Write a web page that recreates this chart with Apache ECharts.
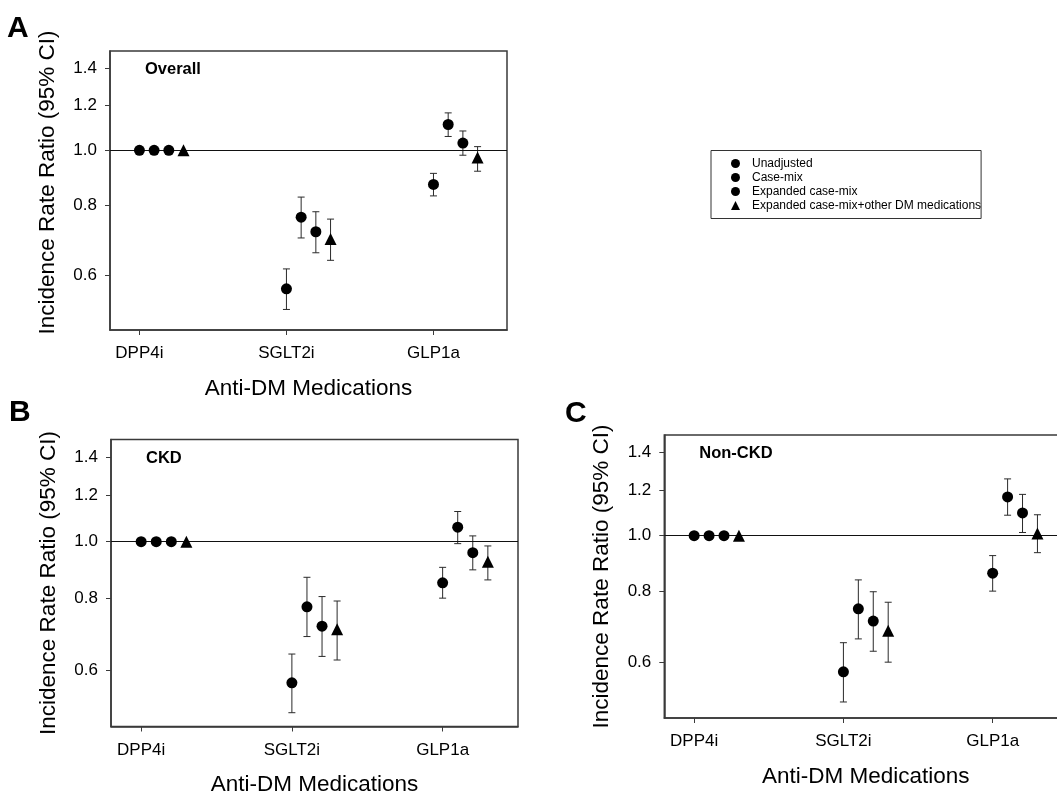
<!DOCTYPE html>
<html><head><meta charset="utf-8">
<script src="https://cdn.jsdelivr.net/npm/echarts@6/dist/echarts.min.js"></script>
<style>html,body{margin:0;padding:0;background:#fff}#c{width:1057px;height:791px}</style>
</head><body><div id="c"></div>
<script>
// ---- data ----
const categories = ['DPP4i', 'SGLT2i', 'GLP1a'];
const seriesNames = ['Unadjusted', 'Case-mix', 'Expanded case-mix', 'Expanded case-mix+other DM medications'];
const yTickValues = [0.6, 0.8, 1.0, 1.2, 1.4];
const panelTitles = ['Overall', 'CKD', 'Non-CKD'];
const panelLetters = ['A', 'B', 'C'];

// Panel A: Overall  (rows = series, columns = categories)
const overallEst  = [[1.0, 0.568, 0.870], [1.0, 0.761, 1.111], [1.0, 0.717, 1.030], [1.0, 0.696, 0.971]];
const overallLow  = [[null, 0.522, 0.830], [null, 0.699, 1.058], [null, 0.658, 0.980], [null, 0.638, 0.918]];
const overallHigh = [[null, 0.616, 0.910], [null, 0.826, 1.165], [null, 0.778, 1.082], [null, 0.755, 1.015]];

// Panel B: CKD
const ckdEst  = [[1.0, 0.571, 0.849], [1.0, 0.772, 1.059], [1.0, 0.715, 0.957], [1.0, 0.706, 0.923]];
const ckdLow  = [[null, 0.507, 0.799], [null, 0.686, 0.992], [null, 0.634, 0.894], [null, 0.625, 0.859]];
const ckdHigh = [[null, 0.640, 0.903], [null, 0.868, 1.127], [null, 0.804, 1.023], [null, 0.790, 0.983]];

// Panel C: Non-CKD
const nonCkdEst  = [[1.0, 0.578, 0.860], [1.0, 0.745, 1.169], [1.0, 0.709, 1.096], [1.0, 0.682, 1.009]];
const nonCkdLow  = [[null, 0.512, 0.800], [null, 0.660, 1.086], [null, 0.628, 1.013], [null, 0.601, 0.934]];
const nonCkdHigh = [[null, 0.650, 0.923], [null, 0.837, 1.257], [null, 0.798, 1.181], [null, 0.765, 1.088]];

const panels = [
  { est: overallEst, low: overallLow, high: overallHigh },
  { est: ckdEst, low: ckdLow, high: ckdHigh },
  { est: nonCkdEst, low: nonCkdLow, high: nonCkdHigh }
];

// ---- layout / style ----
const FONT = '"Liberation Sans", Arial, sans-serif';
const AX = '#3a3a3a';
const SERIES_OFFSET = 0.1;
const grids = [
  { left: 110, top: 51, width: 397, height: 279 },
  { left: 111, top: 439.5, width: 407, height: 287 },
  { left: 664.3, top: 435, width: 403, height: 283 }
];
const yNamePad = [[0, 0, 0, 16], [0, 0, 0, 0], [0, 0, 0, 0]];
const letterPos = [{ left: 7, top: 14 }, { left: 9, top: 398 }, { left: 565, top: 399 }];

const chart = echarts.init(document.getElementById('c'), null, { renderer: 'canvas' });

const xAxes = [], yAxes = [], series = [], titles = [];
grids.forEach((g, p) => {
  xAxes.push({
    type: 'value', gridIndex: p, min: -0.2, max: 2.5,
    name: 'Anti-DM Medications', nameLocation: 'middle', nameGap: 47,
    nameTextStyle: { fontSize: 22.5, color: '#000', fontFamily: FONT },
    axisLine: { show: true, onZero: false, lineStyle: { color: AX, width: 1.5 } },
    axisTick: { show: true, length: 5, inside: false, customValues: [0, 1, 2], lineStyle: { color: AX, width: 1 } },
    axisLabel: { show: true, customValues: [0, 1, 2], margin: 15, fontSize: 17, color: '#000', fontFamily: FONT,
      formatter: v => categories[Math.round(v)] },
    splitLine: { show: false }
  });
  yAxes.push({
    type: 'log', gridIndex: p, min: 0.48, max: 1.5, logBase: 10,
    name: 'Incidence Rate Ratio (95% CI)', nameLocation: 'middle', nameGap: 51,
    nameTextStyle: { fontSize: 22.5, color: '#000', fontFamily: FONT, padding: yNamePad[p] },
    axisLine: { show: true, onZero: false, lineStyle: { color: AX, width: 1.5 } },
    axisTick: { show: true, length: 5, inside: false, customValues: yTickValues, lineStyle: { color: AX, width: 1 } },
    axisLabel: { show: true, customValues: yTickValues, margin: 13, fontSize: 17, color: '#000', fontFamily: FONT,
      formatter: v => Number(v).toFixed(1) },
    splitLine: { show: false }
  });
  const d = panels[p];
  for (let s = 0; s < 4; s++) {
    series.push({
      name: seriesNames[s], type: 'scatter', xAxisIndex: p, yAxisIndex: p,
      symbol: s === 3 ? 'triangle' : 'circle', symbolSize: s === 3 ? 12 : 11,
      itemStyle: { color: '#000', opacity: 1 }, z: 5, silent: true,
      data: categories.map((c, i) => [i + s * SERIES_OFFSET, d.est[s][i]])
    });
  }
  const bars = [];
  for (let s = 0; s < 4; s++) {
    categories.forEach((c, i) => {
      if (d.low[s][i] != null) bars.push([i + s * SERIES_OFFSET, d.low[s][i], d.high[s][i]]);
    });
  }
  series.push({
    type: 'custom', xAxisIndex: p, yAxisIndex: p, z: 3, silent: true,
    encode: { x: 0, y: [1, 2] },
    data: bars,
    renderItem: function (params, api) {
      const x = api.value(0);
      const a = api.coord([x, api.value(1)]);
      const b = api.coord([x, api.value(2)]);
      const w = 3.5;
      const st = { stroke: '#2a2a2a', lineWidth: 1 };
      return {
        type: 'group', children: [
          { type: 'line', shape: { x1: a[0], y1: a[1], x2: b[0], y2: b[1] }, style: st },
          { type: 'line', shape: { x1: a[0] - w, y1: a[1], x2: a[0] + w, y2: a[1] }, style: st },
          { type: 'line', shape: { x1: b[0] - w, y1: b[1], x2: b[0] + w, y2: b[1] }, style: st }
        ]
      };
    },
    markLine: {
      silent: true, symbol: 'none', label: { show: false },
      lineStyle: { color: '#111', width: 1, type: 'solid' },
      data: [{ yAxis: 1.0 }]
    }
  });
  titles.push({
    text: panelTitles[p], left: g.left + 35, top: g.top + 10, padding: 0,
    textStyle: { fontSize: 16.5, fontWeight: 'bold', color: '#000', fontFamily: FONT }
  });
  titles.push({
    text: panelLetters[p], left: letterPos[p].left, top: letterPos[p].top, padding: 0,
    textStyle: { fontSize: 30, fontWeight: 'bold', color: '#000', fontFamily: FONT }
  });
});

chart.setOption({
  animation: false,
  textStyle: { fontFamily: FONT },
  title: titles,
  grid: grids.map(g => Object.assign({ show: true, borderColor: AX, borderWidth: 1.5, backgroundColor: 'transparent', containLabel: false, outerBoundsMode: 'none' }, g)),
  xAxis: xAxes,
  yAxis: yAxes,
  legend: {
    show: true, orient: 'vertical', left: 711, top: 150.5,
    padding: [6.5, 0, 6.5, 20], itemWidth: 9, itemHeight: 9, itemGap: 1,
    borderColor: '#333', borderWidth: 1, selectedMode: false,
    textStyle: { fontSize: 12, color: '#000', fontFamily: FONT, lineHeight: 13, padding: [0, 0, 0, 7] },
    data: seriesNames
  },
  series: series
});
</script></body></html>
